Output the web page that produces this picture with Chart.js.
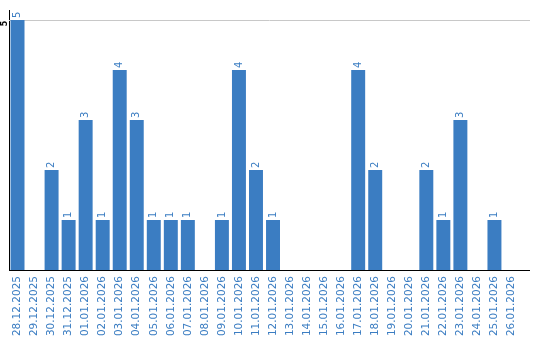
<!DOCTYPE html>
<html><head><meta charset="utf-8">
<script src="https://cdn.jsdelivr.net/npm/chart.js@4/dist/chart.umd.min.js"></script>
<style>html,body{margin:0;padding:0;background:#fff}#wrap{width:540px;height:340px}</style>
</head><body><div id="wrap"><canvas id="c" width="540" height="340"></canvas></div>
<script>
const categories = ["28.12.2025","29.12.2025","30.12.2025","31.12.2025","01.01.2026","02.01.2026","03.01.2026","04.01.2026","05.01.2026","06.01.2026","07.01.2026","08.01.2026","09.01.2026","10.01.2026","11.01.2026","12.01.2026","13.01.2026","14.01.2026","15.01.2026","16.01.2026","17.01.2026","18.01.2026","19.01.2026","20.01.2026","21.01.2026","22.01.2026","23.01.2026","24.01.2026","25.01.2026","26.01.2026"];
const counts = [5,0,2,1,3,1,4,3,1,1,1,0,1,4,2,1,0,0,0,0,4,2,0,0,2,1,3,0,1,0];
const yTicks = [0,5];

const BLUE = '#3b7dc2';
const EXT = 10;
const labelPlugin = {
  id: 'vlabels',
  beforeDatasetsDraw(chart) {
    const ctx = chart.ctx, a = chart.chartArea, y = chart.scales.y;
    ctx.save();
    ctx.strokeStyle = '#c8c8c8'; ctx.lineWidth = 1;
    yTicks.filter(t => t > 0).forEach(t => {
      const py = Math.round(y.getPixelForValue(t)) + 0.5;
      ctx.beginPath(); ctx.moveTo(a.left, py); ctx.lineTo(a.right + EXT, py); ctx.stroke();
    });
    ctx.restore();
  },
  afterDatasetsDraw(chart) {
    const ctx = chart.ctx, a = chart.chartArea;
    const meta = chart.getDatasetMeta(0);
    ctx.save();
    ctx.fillStyle = BLUE;
    ctx.font = '10px "DejaVu Sans"';
    ctx.textAlign = 'left';
    ctx.textBaseline = 'middle';
    meta.data.forEach((bar, i) => {
      const v = counts[i];
      if (!v) return;
      ctx.save();
      ctx.translate(bar.x, bar.y - 2);
      ctx.rotate(-Math.PI / 2);
      ctx.fillText(String(v), 0, 0);
      ctx.restore();
    });
    const y = chart.scales.y;
    const py0 = Math.round(y.getPixelForValue(0)) + 0.5;
    ctx.strokeStyle = '#000'; ctx.lineWidth = 1.2;
    ctx.beginPath(); ctx.moveTo(a.left, py0); ctx.lineTo(a.right + EXT, py0); ctx.stroke();
    ctx.fillStyle = '#000';
    ctx.font = 'bold 8px "DejaVu Sans"';
    ctx.textAlign = 'center';
    ctx.textBaseline = 'middle';
    yTicks.filter(t => t > 0).forEach(t => {
      ctx.save();
      ctx.translate(4.5, y.getPixelForValue(t) + 3.5);
      ctx.rotate(-Math.PI / 2);
      ctx.fillText(String(t), 0, 0);
      ctx.restore();
    });
    ctx.restore();
  }
};

new Chart(document.getElementById('c'), {
  type: 'bar',
  data: { labels: categories, datasets: [{ data: counts, backgroundColor: BLUE, barPercentage: 1, categoryPercentage: 0.82 }] },
  options: {
    responsive: false, animation: false, devicePixelRatio: 1,
    layout: { padding: { top: 10, right: 20, left: 0, bottom: 0 } },
    plugins: { legend: { display: false }, tooltip: { enabled: false } },
    scales: {
      x: {
        grid: { display: false, drawTicks: false },
        border: { display: false },
        ticks: { color: BLUE, font: { family: 'DejaVu Sans', size: 10.5 }, minRotation: 90, maxRotation: 90, padding: 6, autoSkip: false },
        afterFit(s) { s.height = 70; }
      },
      y: {
        min: 0, max: 5.2,
        afterBuildTicks(s) { s.ticks = yTicks.map(v => ({ value: v })); },
        grid: { display: false, drawTicks: false },
        border: { color: '#000', width: 1 },
        ticks: { display: false },
        afterFit(s) { s.width = 9; }
      }
    }
  },
  plugins: [labelPlugin]
});
</script></body></html>
